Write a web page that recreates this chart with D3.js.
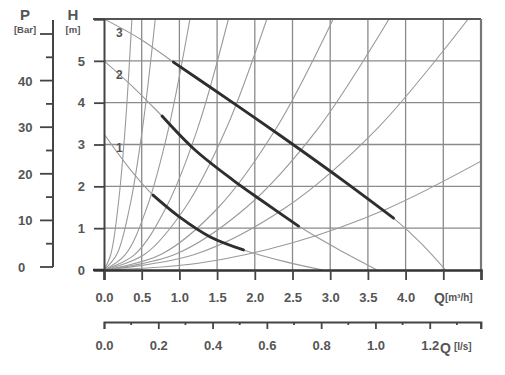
<!DOCTYPE html>
<html>
<head>
<meta charset="utf-8">
<script src="https://cdn.jsdelivr.net/npm/d3@7"></script>
<style>
body { margin: 0; background: #fff; }
svg text { font-family: "Liberation Sans", Arial, sans-serif; font-weight: bold; fill: #555; }
</style>
</head>
<body>
<svg id="chart" width="505" height="375"></svg>
<script>
// pump curves at speed 1, 2, 3 (Q in m3/h, H in m)
var curve1 = [[0, 3.25], [0.385, 2.32], [0.65, 1.79], [1.0, 1.27], [1.41, 0.79], [1.85, 0.48], [2.4, 0.2], [2.9, 0]];
var curve2 = [[0, 5.0], [0.4, 4.35], [0.77, 3.68], [1.2, 2.88], [1.71, 2.15], [2.1, 1.65], [2.58, 1.05], [3.1, 0.5], [3.62, 0]];
var curve3 = [[0, 6.0], [0.5, 5.5], [0.92, 4.97], [1.41, 4.37], [2.03, 3.6], [2.6, 2.88], [3.2, 2.1], [3.84, 1.24], [4.2, 0.65], [4.53, 0]];
var boldRange1 = [0.65, 1.85];
var boldRange2 = [0.77, 2.58];
var boldRange3 = [0.92, 3.84];
var curveNames = ["1", "2", "3"];

// system curves fanning out of the origin
var sys1 = [[0, 0], [0.09, 0.375], [0.185, 1.5], [0.28, 3.375], [0.37, 6]];
var sys2 = [[0, 0], [0.17, 0.375], [0.34, 1.5], [0.51, 3.375], [0.68, 6]];
var sys3 = [[0, 0], [0.285, 0.375], [0.57, 1.5], [0.855, 3.375], [1.14, 6]];
var sys4 = [[0, 0], [0.41, 0.375], [0.825, 1.5], [1.24, 3.375], [1.65, 6]];
var sys5 = [[0, 0], [0.54, 0.375], [1.08, 1.5], [1.62, 3.375], [2.16, 6]];
var sys6 = [[0, 0], [0.76, 0.375], [1.52, 1.5], [2.28, 3.375], [3.04, 6]];
var sys7 = [[0, 0], [0.945, 0.375], [1.89, 1.5], [2.835, 3.375], [3.78, 6]];
var sys8 = [[0, 0], [1.21, 0.375], [2.415, 1.5], [3.62, 3.375], [4.83, 6]];
var sys9 = [[0, 0], [1.25, 0.16], [2.5, 0.65], [3.75, 1.46], [5, 2.6]];

var qTicks = [0, 0.5, 1, 1.5, 2, 2.5, 3, 3.5, 4, 4.5, 5];
var hTicks = [0, 1, 2, 3, 4, 5, 6];
var lsTicks = [0, 0.2, 0.4, 0.6, 0.8, 1.0, 1.2];
var lsMinor = [0.1, 0.3, 0.5, 0.7, 0.9, 1.1, 1.3];
var pTicks = [0, 10, 20, 30, 40, 50];
var pMinor = [5, 15, 25, 35, 45];

var svg = d3.select("#chart");
var x = d3.scaleLinear().domain([0, 5]).range([104, 481]);
var y = d3.scaleLinear().domain([0, 6]).range([270, 19]);
var xls = d3.scaleLinear().domain([0, 5 / 3.6]).range([104, 481]);
var yp = d3.scaleLinear().domain([0, 50]).range([267, 34]);

svg.append("defs").append("clipPath").attr("id", "plot")
    .append("rect").attr("x", x(0)).attr("y", y(6)).attr("width", x(5) - x(0)).attr("height", y(0) - y(6));

// grid
svg.append("g").selectAll("line").data(qTicks.slice(1, -1)).enter().append("line")
    .attr("x1", function(d) { return x(d); }).attr("x2", function(d) { return x(d); })
    .attr("y1", y(0)).attr("y2", y(6))
    .attr("stroke", "#8a8a8a").attr("stroke-width", 1.3);
svg.append("g").selectAll("line").data(hTicks.slice(1, -1)).enter().append("line")
    .attr("x1", x(0)).attr("x2", x(5))
    .attr("y1", function(d) { return y(d); }).attr("y2", function(d) { return y(d); })
    .attr("stroke", "#8a8a8a").attr("stroke-width", 1.3);

var line = d3.line()
    .x(function(d) { return x(d[0]); })
    .y(function(d) { return y(d[1]); })
    .curve(d3.curveCatmullRom);

var plot = svg.append("g").attr("clip-path", "url(#plot)");

plot.selectAll(".sys")
    .data([sys1, sys2, sys3, sys4, sys5, sys6, sys7, sys8, sys9])
    .enter()
    .append("path")
    .attr("class", "sys")
    .attr("d", line)
    .attr("fill", "none")
    .attr("stroke", "#9a9a9a")
    .attr("stroke-width", 1.1);

var pumps = [curve1, curve2, curve3];
var ranges = [boldRange1, boldRange2, boldRange3];

plot.selectAll(".pump")
    .data(pumps)
    .enter()
    .append("path")
    .attr("class", "pump")
    .attr("d", line)
    .attr("fill", "none")
    .attr("stroke", "#9a9a9a")
    .attr("stroke-width", 1.1);

plot.selectAll(".bold")
    .data(pumps)
    .enter()
    .append("path")
    .attr("class", "bold")
    .attr("d", function(d, i) {
        return line(d.filter(function(p) { return p[0] >= ranges[i][0] && p[0] <= ranges[i][1]; }));
    })
    .attr("fill", "none")
    .attr("stroke", "#2e2e2e")
    .attr("stroke-width", 2.9)
    .attr("stroke-linecap", "round");

svg.selectAll(".cname")
    .data(pumps)
    .enter()
    .append("text")
    .attr("x", 116)
    .attr("y", function(d) { return y(d[0][1]) + 18; })
    .attr("font-size", 12)
    .text(function(d, i) { return curveNames[i]; });

// frame
svg.append("line").attr("x1", 93).attr("x2", x(5)).attr("y1", y(6)).attr("y2", y(6))
    .attr("stroke", "#555").attr("stroke-width", 2);
svg.append("line").attr("x1", x(5)).attr("x2", x(5)).attr("y1", y(6)).attr("y2", y(0))
    .attr("stroke", "#777").attr("stroke-width", 2.2);

// H axis
var hAxis = svg.append("g").attr("transform", "translate(" + x(0) + ",0)")
    .call(d3.axisLeft(y).tickValues(hTicks).tickSize(10).tickPadding(9)
        .tickFormat(function(d) { return d < 6 ? d : ""; }));
hAxis.select(".domain").attr("stroke", "#444").attr("stroke-width", 2);
hAxis.selectAll(".tick line").attr("stroke", "#444").attr("stroke-width", 1.8);
hAxis.selectAll("text").attr("font-size", 13).attr("fill", "#555").attr("font-family", null);

// Q axis m3/h
var qAxis = svg.append("g").attr("transform", "translate(0," + y(0) + ")")
    .call(d3.axisBottom(x).tickValues(qTicks).tickSize(10).tickPadding(13)
        .tickFormat(function(d) { return d <= 4 ? d.toFixed(1) : ""; }));
qAxis.select(".domain").attr("stroke", "#333").attr("stroke-width", 2.5);
qAxis.selectAll(".tick line").attr("stroke", "#444").attr("stroke-width", 1.8);
qAxis.selectAll("text").attr("font-size", 13).attr("fill", "#555").attr("font-family", null);
svg.append("line").attr("x1", 93).attr("x2", x(0)).attr("y1", y(0)).attr("y2", y(0))
    .attr("stroke", "#333").attr("stroke-width", 2.5);

var qLabel = svg.append("text").attr("x", 434).attr("y", 303).attr("font-size", 14);
qLabel.append("tspan").text("Q");
qLabel.append("tspan").attr("font-size", 10).attr("dy", -2).text("[m³/h]");

// Q axis l/s
var lsAxis = svg.append("g").attr("transform", "translate(0,322)")
    .call(d3.axisBottom(xls).tickValues(lsTicks).tickSize(7).tickPadding(12)
        .tickFormat(d3.format(".1f")));
lsAxis.select(".domain").attr("stroke", "#444").attr("stroke-width", 1.8);
lsAxis.selectAll(".tick line").attr("stroke", "#444").attr("stroke-width", 1.8);
lsAxis.selectAll("text").attr("font-size", 13).attr("fill", "#555").attr("font-family", null);
lsAxis.selectAll(".minor").data(lsMinor).enter().append("line")
    .attr("x1", function(d) { return xls(d); }).attr("x2", function(d) { return xls(d); })
    .attr("y1", 0).attr("y2", 3)
    .attr("stroke", "#444").attr("stroke-width", 1.8);
lsAxis.append("line").attr("x1", x(5)).attr("x2", x(5)).attr("y1", 0).attr("y2", 7)
    .attr("stroke", "#444").attr("stroke-width", 1.8);

var lsLabel = svg.append("text").attr("x", 440).attr("y", 353).attr("font-size", 14);
lsLabel.append("tspan").text("Q");
lsLabel.append("tspan").attr("font-size", 10).attr("dx", 3).attr("dy", -3).text("[l/s]");

// P axis
svg.append("line").attr("x1", 53).attr("x2", 53).attr("y1", 20).attr("y2", yp(0))
    .attr("stroke", "#444").attr("stroke-width", 2);
svg.selectAll(".pt").data(pTicks).enter().append("line")
    .attr("x1", 40).attr("x2", 53)
    .attr("y1", function(d) { return yp(d); }).attr("y2", function(d) { return yp(d); })
    .attr("stroke", "#444").attr("stroke-width", 1.8);
svg.selectAll(".pm").data(pMinor).enter().append("line")
    .attr("x1", 46).attr("x2", 53)
    .attr("y1", function(d) { return yp(d); }).attr("y2", function(d) { return yp(d); })
    .attr("stroke", "#444").attr("stroke-width", 1.8);
svg.selectAll(".plab").data(pTicks.slice(0, -1)).enter().append("text")
    .attr("x", 18)
    .attr("y", function(d) { return yp(d) + 5; })
    .attr("font-size", 13)
    .text(function(d) { return d; });

svg.append("text").attr("x", 25).attr("y", 20).attr("text-anchor", "middle").attr("font-size", 15).text("P");
svg.append("text").attr("x", 25).attr("y", 33).attr("text-anchor", "middle").attr("font-size", 9.5).text("[Bar]");
svg.append("text").attr("x", 73).attr("y", 20).attr("text-anchor", "middle").attr("font-size", 15).text("H");
svg.append("text").attr("x", 73).attr("y", 33).attr("text-anchor", "middle").attr("font-size", 9.5).text("[m]");
</script>
</body>
</html>
